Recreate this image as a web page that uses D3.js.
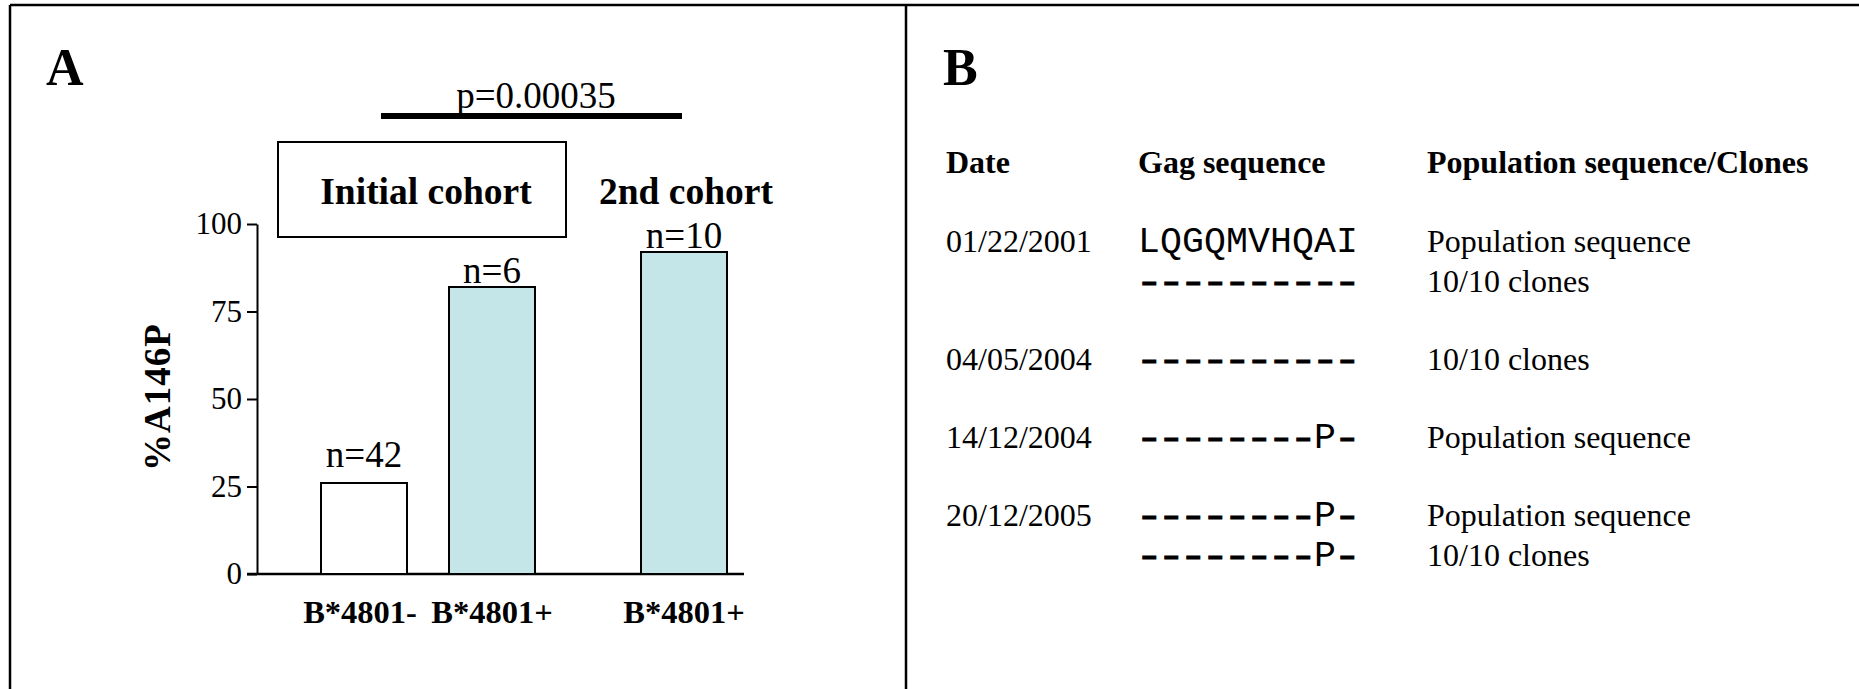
<!DOCTYPE html>
<html>
<head>
<meta charset="utf-8">
<script src="https://cdn.jsdelivr.net/npm/d3@7"></script>
<style>
  html, body { margin: 0; padding: 0; background: #fff; }
  svg { display: block; }
</style>
</head>
<body>
<svg id="chart" width="1859" height="689"></svg>
<script>
// ---------- Panel A data ----------
const categories = ["B*4801-", "B*4801+", "B*4801+"];
const cohorts = ["Initial cohort", "Initial cohort", "2nd cohort"];
const values = [26, 82, 92];
const nLabels = ["n=42", "n=6", "n=10"];
const yTicks = [0, 25, 50, 75, 100];
const yTitle = "%A146P";
const pValue = "p=0.00035";

// ---------- Panel B data ----------
const tableHeaders = ["Date", "Gag sequence", "Population sequence/Clones"];
const dates = ["01/22/2001", "", "04/05/2004", "14/12/2004", "20/12/2005", ""];
const sequences = ["LQGQMVHQAI", "----------", "----------", "--------P-", "--------P-", "--------P-"];
const sources = ["Population sequence", "10/10 clones", "10/10 clones", "Population sequence", "Population sequence", "10/10 clones"];

const svg = d3.select("#chart");
const serif = "'Liberation Serif', 'Times New Roman', serif";
const mono = "'Liberation Mono', 'Courier New', monospace";

svg.append("rect").attr("width", 1859).attr("height", 689).attr("fill", "#fff");

// frame
const frame = svg.append("g").attr("stroke", "#000").attr("stroke-width", 2.5).attr("fill", "none");
frame.append("line").attr("x1", 10).attr("x2", 1859).attr("y1", 5).attr("y2", 5);
frame.append("line").attr("x1", 10).attr("x2", 10).attr("y1", 5).attr("y2", 689);
frame.append("line").attr("x1", 906).attr("x2", 906).attr("y1", 5).attr("y2", 689);

// ---------- Panel A ----------
const gA = svg.append("g");
gA.append("text").attr("x", 46).attr("y", 85).attr("font-family", serif)
  .attr("font-weight", "bold").attr("font-size", 52).text("A");

const y = d3.scaleLinear().domain([0, 100]).range([574, 224]);

// slot positions: a half-gap inserted between cohorts
const slots = categories.map((c, i) => {
  let breaks = 0;
  for (let k = 1; k <= i; k++) if (cohorts[k] !== cohorts[k - 1]) breaks++;
  return i * 2 + breaks;
});
const x = d3.scaleLinear().domain([0, 5]).range([364, 684]);
const barW = 86;

// y axis
const yAxis = d3.axisLeft(y).tickValues(yTicks).tickSize(10).tickPadding(5).tickSizeOuter(0);
const ya = gA.append("g").attr("transform", "translate(257,0)").call(yAxis);
ya.select(".domain").attr("stroke", "#000").attr("stroke-width", 2);
ya.selectAll(".tick line").attr("stroke", "#000").attr("stroke-width", 2);
ya.selectAll(".tick text").attr("font-family", serif).attr("font-size", 31).attr("fill", "#000");

// x axis baseline
gA.append("line").attr("x1", 247).attr("x2", 744).attr("y1", y(0)).attr("y2", y(0))
  .attr("stroke", "#000").attr("stroke-width", 2.5);

// bars
gA.selectAll("rect.bar").data(values).join("rect").attr("class", "bar")
  .attr("x", (d, i) => x(slots[i]) - barW / 2)
  .attr("width", barW)
  .attr("y", d => y(d))
  .attr("height", d => y(0) - y(d))
  .attr("fill", (d, i) => i === 0 ? "#ffffff" : "#c5e6e9")
  .attr("stroke", "#000").attr("stroke-width", 2);

// n labels (first label sits higher above its bar, as in the original)
const labelLift = i => i === 0 ? 16 : 4;
gA.selectAll("text.n").data(nLabels).join("text").attr("class", "n")
  .attr("x", (d, i) => x(slots[i]))
  .attr("y", (d, i) => y(values[i]) - labelLift(i))
  .attr("text-anchor", "middle").attr("font-family", serif).attr("font-size", 37)
  .text(d => d);

// category labels
gA.selectAll("text.cat").data(categories).join("text").attr("class", "cat")
  .attr("x", (d, i) => x(slots[i]) - (i === 0 ? 4 : 0))
  .attr("y", 623)
  .attr("text-anchor", "middle").attr("font-family", serif).attr("font-weight", "bold")
  .attr("font-size", 32.5).text(d => d);

// y title
gA.append("text").attr("transform", "translate(170,397) rotate(-90)")
  .attr("text-anchor", "middle").attr("font-family", serif).attr("font-weight", "bold")
  .attr("font-size", 37).attr("letter-spacing", 1).text(yTitle);

// cohort labels
const cohortNames = Array.from(new Set(cohorts));
gA.append("rect").attr("x", 278).attr("y", 142).attr("width", 288).attr("height", 95)
  .attr("fill", "none").attr("stroke", "#000").attr("stroke-width", 2);
gA.selectAll("text.cohort").data(cohortNames).join("text").attr("class", "cohort")
  .attr("x", d => d === cohortNames[0] ? 426 : x(slots[cohorts.indexOf(d)]) + 2)
  .attr("y", 204)
  .attr("text-anchor", "middle").attr("font-family", serif).attr("font-weight", "bold")
  .attr("font-size", 37.5).text(d => d);

// p value bracket
gA.append("line").attr("x1", 381).attr("x2", 682).attr("y1", 116).attr("y2", 116)
  .attr("stroke", "#000").attr("stroke-width", 6);
gA.append("text").attr("x", 536).attr("y", 108).attr("text-anchor", "middle")
  .attr("font-family", serif).attr("font-size", 37).text(pValue);

// ---------- Panel B ----------
const gB = svg.append("g");
gB.append("text").attr("x", 943).attr("y", 85).attr("font-family", serif)
  .attr("font-weight", "bold").attr("font-size", 52).text("B");

const colX = [946, 1138, 1427];
gB.selectAll("text.hdr").data(tableHeaders).join("text").attr("class", "hdr")
  .attr("x", (d, i) => colX[i]).attr("y", 173)
  .attr("font-family", serif).attr("font-weight", "bold").attr("font-size", 32)
  .text(d => d);

// row positions: line step plus extra gap for each new date group
const groupIdx = [];
let g = -1;
dates.forEach(d => { if (d !== "") g++; groupIdx.push(g); });
const rowY = d3.scaleLinear().domain([0, 1]).range([252, 292]);
const groupGap = 38;
const yRow = i => rowY(i) + groupIdx[i] * groupGap;

gB.selectAll("text.date").data(dates.filter(d => d !== "")).join("text").attr("class", "date")
  .attr("x", colX[0]).attr("y", d => yRow(dates.indexOf(d)))
  .attr("font-family", serif).attr("font-size", 32).text(d => d);

const cellW = 22;
const seqText = gB.selectAll("text.seq").data(sequences).join("text").attr("class", "seq")
  .attr("y", (d, i) => yRow(i)).attr("font-family", mono).attr("font-size", 36.5);
seqText.each(function(d) {
  const t = d3.select(this);
  d.split("").forEach((ch, k) => {
    if (ch === "-") {
      t.append("tspan").attr("x", colX[1] + k * cellW + 3)
        .attr("font-family", serif).attr("font-weight", "bold")
        .attr("stroke", "#000").attr("stroke-width", 0.9)
        .attr("textLength", 16.5).attr("lengthAdjust", "spacingAndGlyphs")
        .text(ch);
    } else {
      t.append("tspan").attr("x", colX[1] + k * cellW).text(ch);
    }
  });
});

gB.selectAll("text.src").data(sources).join("text").attr("class", "src")
  .attr("x", colX[2]).attr("y", (d, i) => yRow(i))
  .attr("font-family", serif).attr("font-size", 32).text(d => d);
</script>
</body>
</html>
